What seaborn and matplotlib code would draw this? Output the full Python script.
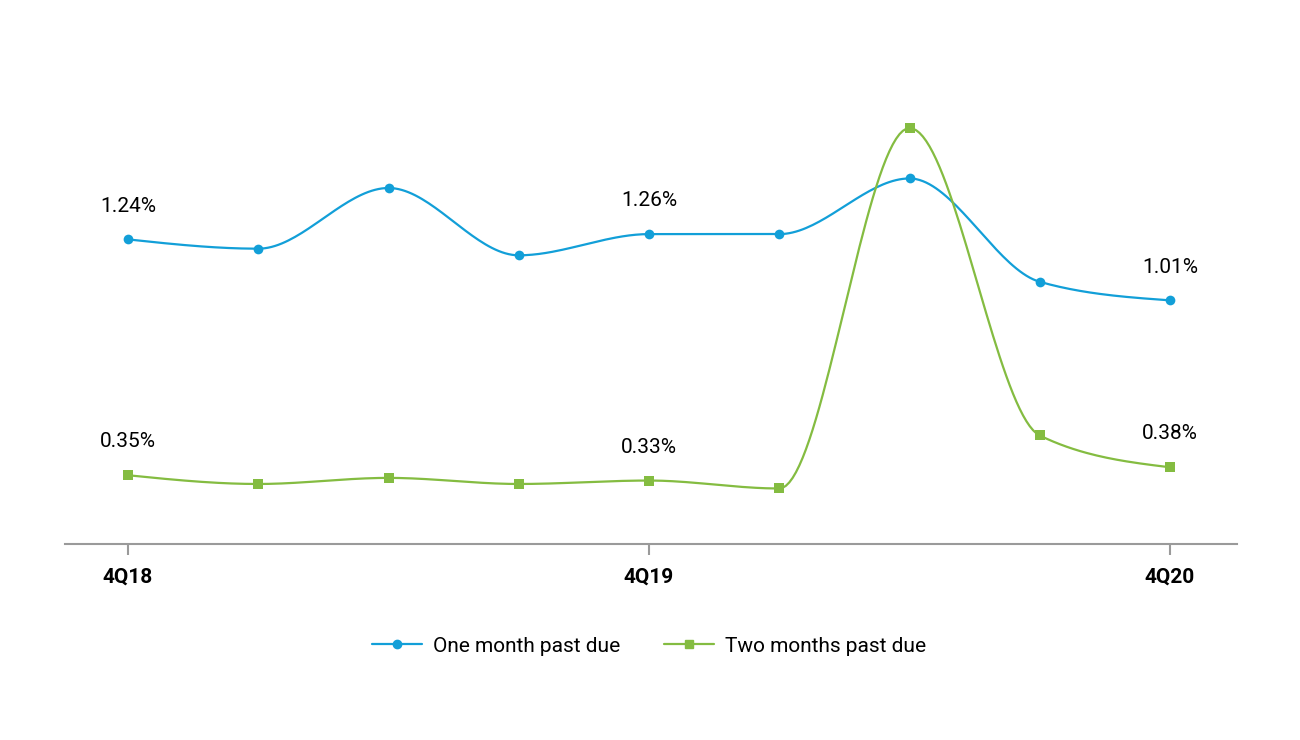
import numpy as np
import pandas as pd
import matplotlib
matplotlib.use("Agg")
import matplotlib.pyplot as plt
import seaborn as sns
from matplotlib.lines import Line2D

quarters = ["4Q18", "1Q19", "2Q19", "3Q19", "4Q19", "1Q20", "2Q20", "3Q20", "4Q20"]
one_month = [1.24, 1.205, 1.434, 1.18, 1.26, 1.26, 1.47, 1.08, 1.01]
two_months = [0.35, 0.317, 0.34, 0.317, 0.33, 0.30, 1.66, 0.50, 0.38]
tick_quarters = ["4Q18", "4Q19", "4Q20"]
label_quarters = ["4Q18", "4Q19", "4Q20"]
series_names = ["One month past due", "Two months past due"]

BLUE = "#129FD8"
GREEN = "#84BC41"
GRAY = "#9A9A9A"

sns.set_theme(style="white")
plt.rcParams["font.family"] = ["Roboto", "DejaVu Sans"]
FS = 15


def monotone_curve(x, y, n=40):
    """d3 curveMonotoneX-style rendering of the polyline."""
    x = np.asarray(x, float)
    y = np.asarray(y, float)
    h = np.diff(x)
    s = np.diff(y) / h
    m = np.zeros_like(y)
    for i in range(1, len(y) - 1):
        p = (s[i - 1] * h[i] + s[i] * h[i - 1]) / (h[i - 1] + h[i])
        m[i] = (np.sign(s[i - 1]) + np.sign(s[i])) * min(abs(s[i - 1]), abs(s[i]), 0.5 * abs(p))
    m[0] = (3 * s[0] - m[1]) / 2
    m[-1] = (3 * s[-1] - m[-2]) / 2
    xs, ys = [], []
    for i in range(len(h)):
        t = np.linspace(0, 1, n)
        h00 = 2 * t**3 - 3 * t**2 + 1
        h10 = t**3 - 2 * t**2 + t
        h01 = -2 * t**3 + 3 * t**2
        h11 = t**3 - t**2
        xs.append(x[i] + t * h[i])
        ys.append(h00 * y[i] + h10 * h[i] * m[i] + h01 * y[i + 1] + h11 * h[i] * m[i + 1])
    return np.concatenate(xs), np.concatenate(ys)


fig = plt.figure(figsize=(13, 7.4), dpi=100)
ax = fig.add_axes([0.05, 0.2649, 0.9015, 0.654])

idx = np.arange(len(quarters))
for vals, color, marker, ms in [(one_month, BLUE, "o", 7), (two_months, GREEN, "s", 7)]:
    cx, cy = monotone_curve(idx, vals)
    sns.lineplot(x=cx, y=cy, ax=ax, color=color, lw=1.6, sort=False, estimator=None)
    sns.scatterplot(x=idx, y=vals, ax=ax, color=color, marker=marker, s=ms**2, linewidth=0, zorder=5)
    for q in label_quarters:
        i = quarters.index(q)
        ax.annotate(f"{vals[i]:.2f}%", (i, vals[i]), xytext=(0, 24), textcoords="offset points",
                    ha="center", va="center", fontsize=FS, color="black")

ax.set_xlim(-0.484, 8.514)
ax.set_ylim(0.0906, 1.917)
ax.set_xticks([quarters.index(q) for q in tick_quarters])
ax.set_xticklabels(tick_quarters, fontsize=FS, fontweight="bold", color="black")
ax.set_yticks([])
for side in ["left", "right", "top"]:
    ax.spines[side].set_visible(False)
ax.spines["bottom"].set_color(GRAY)
ax.spines["bottom"].set_linewidth(1.5)
ax.tick_params(axis="x", which="both", bottom=True, length=8, width=1.5, color=GRAY, pad=9)

handles = [Line2D([], [], color=BLUE, marker="o", markersize=6, lw=1.6),
           Line2D([], [], color=GREEN, marker="s", markersize=6, lw=1.6)]
leg = fig.legend(handles, series_names, loc="center", bbox_to_anchor=(0.499, 0.127), ncol=2,
                 frameon=False, fontsize=FS, handlelength=2.4, columnspacing=2.1, handletextpad=0.53)
for t in leg.get_texts():
    t.set_color("black")

fig.savefig("out.png", dpi=100, facecolor="white")
